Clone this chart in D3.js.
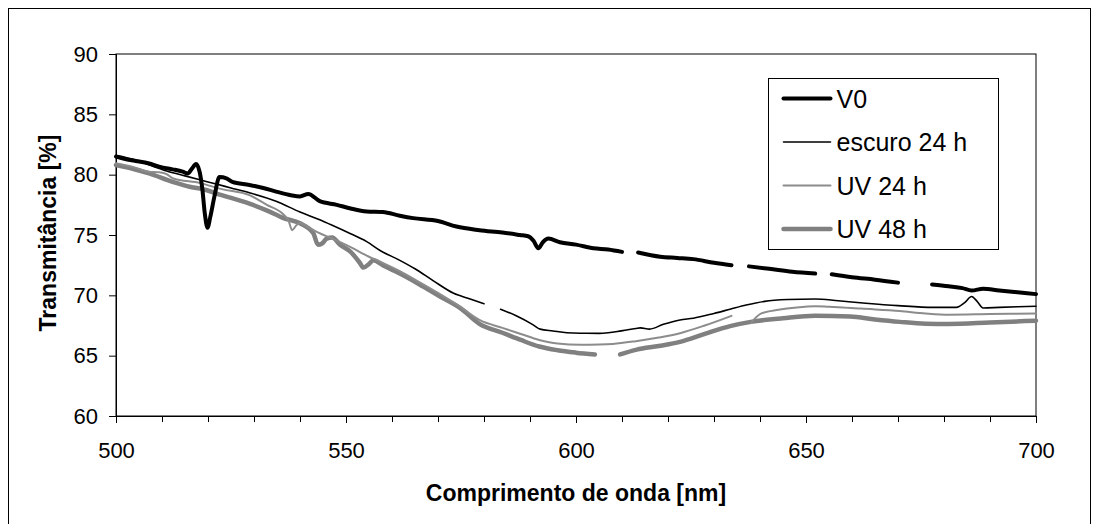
<!DOCTYPE html>
<html>
<head>
<meta charset="utf-8">
<script src="https://cdn.jsdelivr.net/npm/d3@7"></script>
<style>
  body { margin: 0; background: #fff; }
  text { font-family: "Liberation Sans", Arial, sans-serif; }
</style>
</head>
<body>
<div id="chart"></div>
<script>
// Wavelengths [nm] and transmittance [%] (null = gap in the trace)
const v0Nm = [500, 502, 504.3, 507, 510, 512.3, 514.5, 515.6, 516.5, 517.4, 518.2, 518.8, 519.3, 519.9, 520.5, 521.4, 522.5, 524, 525.3, 529, 532, 534.8, 538, 540, 541.8, 544.3, 548, 551, 554.5, 558, 561.7, 564.6, 570, 574, 579, 584, 587.8, 589.6, 590.8, 591.8, 592.8, 594, 596.5, 600, 603.8, 607, 610, 611.8, 613.5, 618.3, 622, 625.5, 630, 633.8, 635.7, 637.6, 642, 647, 652, 653.8, 655.6, 660, 665, 670, 673.7, 677.4, 681, 684, 686, 688.5, 692, 696, 700];
const v0Val = [81.5, 81.3, 81.13, 80.95, 80.6, 80.44, 80.25, 80.1, 80.5, 80.88, 80.2, 78.7, 76.8, 75.6, 76.5, 78.2, 79.8, 79.7, 79.4, 79.15, 78.9, 78.6, 78.3, 78.2, 78.4, 77.8, 77.5, 77.2, 76.95, 76.9, 76.6, 76.4, 76.16, 75.7, 75.4, 75.2, 75.0, 74.9, 74.5, 73.9, 74.4, 74.7, 74.4, 74.2, 73.9, 73.8, 73.6, null, 73.55, 73.2, 73.1, 73.0, 72.7, 72.5, null, 72.4, 72.2, 71.95, 71.8, null, 71.75, 71.5, 71.3, 71.05, null, 70.9, 70.75, 70.6, 70.4, 70.55, 70.4, 70.25, 70.1];

const escNm = [500, 504.3, 508, 511, 515, 518, 522, 525, 529, 534.8, 540, 544, 547, 551, 554.5, 557.5, 561.7, 565, 569, 573.4, 577, 580, 581.8, 583.6, 587, 590.7, 592.2, 595, 598, 601, 605, 607, 609, 611, 613, 614, 616, 619, 622.6, 625.5, 630, 633.5, 637, 641, 646, 652, 657, 663, 670, 677.6, 682.7, 684.5, 686, 687.2, 688.5, 692, 696, 700];
const escVal = [81.6, 81.2, 80.7, 80.3, 79.9, 79.6, 79.2, 78.9, 78.5, 77.8, 76.9, 76.3, 75.8, 75.1, 74.45, 73.7, 72.9, 72.2, 71.2, 70.17, 69.7, 69.3, null, 68.85, 68.3, 67.55, 67.2, 67.05, 66.9, 66.86, 66.85, 66.9, 67.0, 67.13, 67.25, 67.3, 67.2, 67.6, 67.96, 68.1, 68.5, 68.85, 69.2, 69.5, 69.65, 69.7, 69.55, 69.35, 69.15, 69.0, 69.0, 69.4, 69.9, 69.5, 68.95, 69.0, 69.05, 69.1];

const uv24Nm = [500, 504, 507.2, 509.4, 511, 512.3, 518.3, 523, 529, 532.8, 536.4, 537.5, 538.3, 539.2, 540, 542, 544, 547, 551, 555, 557.4, 561.7, 565, 570, 575, 579, 584, 588, 592, 596, 601, 605, 608, 613, 618, 622.6, 628, 633.8, 635.9, 638, 640.3, 644, 648, 652, 655, 658, 662, 670.4, 676, 681, 690, 700];
const uv24Val = [80.94, 80.6, 80.25, 80.2, 80.05, 79.7, 79.3, 78.8, 78.3, 77.5, 76.7, 76.2, 75.4, 75.8, 76.0, 75.6, 75.2, 74.7, 74.0, 73.2, 72.8, 72.0, 71.3, 70.2, 69.0, 67.96, 67.3, 66.8, 66.3, 66.0, 65.9, 65.92, 65.97, 66.2, 66.5, 66.86, 67.5, 68.3, null, 67.7, 68.5, 68.8, 69.0, 69.1, 69.05, 69.0, 68.9, 68.7, 68.5, 68.4, 68.45, 68.5];

const uv48Nm = [500, 504, 507.2, 512.3, 514.5, 516, 518.3, 523, 529, 533, 536.4, 540, 542.9, 543.9, 544.8, 545.8, 547, 548.7, 551, 553, 553.8, 555, 555.9, 558, 561.7, 566, 570, 575, 579, 584, 588, 592, 596, 600, 604.1, 607, 609.6, 613.2, 618, 622.6, 628, 633.5, 638, 645, 652, 659.6, 665, 670.4, 676, 681, 690, 700];
const uv48Val = [80.8, 80.45, 80.1, 79.4, 79.15, 79.0, 78.85, 78.3, 77.6, 77.0, 76.4, 75.97, 75.14, 74.2, 74.3, 74.7, 74.8, 74.2, 73.6, 72.7, 72.3, 72.6, 72.9, 72.5, 71.8, 70.9, 70.0, 68.9, 67.63, 66.9, 66.3, 65.76, 65.45, 65.25, 65.1, null, 65.1, 65.5, 65.8, 66.14, 66.8, 67.45, 67.8, 68.1, 68.3, 68.24, 68.0, 67.8, 67.65, 67.63, 67.75, 67.9];

const seriesNames = ["V0", "escuro 24 h", "UV 24 h", "UV 48 h"];
const xTicks = [500, 550, 600, 650, 700];
const yTicks = [60, 65, 70, 75, 80, 85, 90];

const W = 1099, H = 524;
const margin = { top: 54, right: 63, bottom: 108, left: 116 };
const width = W - margin.left - margin.right;
const height = H - margin.top - margin.bottom;

const svg = d3.select("#chart").append("svg")
  .attr("width", W)
  .attr("height", H);

// outer chart frame
svg.append("rect")
  .attr("x", 8.5).attr("y", 8.5)
  .attr("width", 1082).attr("height", 540)
  .attr("fill", "#fff").attr("stroke", "#000");

const g = svg.append("g").attr("transform", `translate(${margin.left},${margin.top})`);

const x = d3.scaleLinear().domain([500, 700]).range([0, width]);
const y = d3.scaleLinear().domain([60, 90]).range([height, 0]);

// plot area border
g.append("rect")
  .attr("width", width).attr("height", height)
  .attr("fill", "none").attr("stroke", "#000");

// axes
g.append("g")
  .attr("transform", `translate(0,${height})`)
  .call(d3.axisBottom(x).tickValues(xTicks).tickSize(7).tickPadding(19).tickFormat(d3.format("d")));
g.append("g")
  .attr("transform", `translate(0,${height})`)
  .call(d3.axisBottom(x).tickValues(d3.range(510, 700, 10).filter(d => d % 50)).tickSize(6).tickFormat(""))
  .call(a => a.select(".domain").remove());
g.append("g")
  .call(d3.axisLeft(y).tickValues(yTicks).tickSize(7).tickPadding(11));

g.selectAll(".tick text").attr("font-size", 22).attr("fill", "#000")
  .style("font-family", '"Liberation Sans", Arial, sans-serif');
g.selectAll(".domain, .tick line").attr("stroke", "#000");

// axis titles
svg.append("text")
  .attr("x", margin.left + width / 2).attr("y", 501)
  .attr("text-anchor", "middle")
  .attr("font-size", 23).attr("font-weight", "bold")
  .text("Comprimento de onda [nm]");
svg.append("text")
  .attr("transform", `translate(56,${margin.top + height / 2 - 2}) rotate(-90)`)
  .attr("text-anchor", "middle")
  .attr("font-size", 23).attr("font-weight", "bold")
  .text("Transmitância [%]");

// series
const series = [
  { name: seriesNames[0], nm: v0Nm, val: v0Val, color: "#000", w: 4 },
  { name: seriesNames[1], nm: escNm, val: escVal, color: "#000", w: 1.6 },
  { name: seriesNames[2], nm: uv24Nm, val: uv24Val, color: "#8c8c8c", w: 2 },
  { name: seriesNames[3], nm: uv48Nm, val: uv48Val, color: "#808080", w: 4.5 }
];

const line = d3.line()
  .defined(d => d[1] != null)
  .x(d => x(d[0]))
  .y(d => y(d[1]))
  .curve(d3.curveMonotoneX);

// draw thick grey first, then others on top like the reference
[3, 2, 1, 0].forEach(i => {
  const s = series[i];
  g.append("path")
    .datum(s.nm.map((n, j) => [n, s.val[j]]))
    .attr("fill", "none")
    .attr("stroke", s.color)
    .attr("stroke-width", s.w)
    .attr("stroke-linejoin", "round")
    .attr("stroke-linecap", "round")
    .attr("d", line);
});

// legend
const legend = svg.append("g").attr("transform", "translate(768.5,78.5)");
legend.append("rect")
  .attr("width", 230).attr("height", 171)
  .attr("fill", "#fff").attr("stroke", "#000");

legend.selectAll(".leg-line")
  .data(series)
  .join("line")
  .attr("x1", 15).attr("x2", 62)
  .attr("y1", (d, i) => 20 + i * 43.5).attr("y2", (d, i) => 20 + i * 43.5)
  .attr("stroke", d => d.color)
  .attr("stroke-width", d => d.w)
  .attr("stroke-linecap", "round");

legend.selectAll(".leg-text")
  .data(series)
  .join("text")
  .attr("x", 68)
  .attr("y", (d, i) => 20 + i * 43.5)
  .attr("dy", "0.36em")
  .attr("font-size", 25)
  .text(d => d.name);
</script>
</body>
</html>
